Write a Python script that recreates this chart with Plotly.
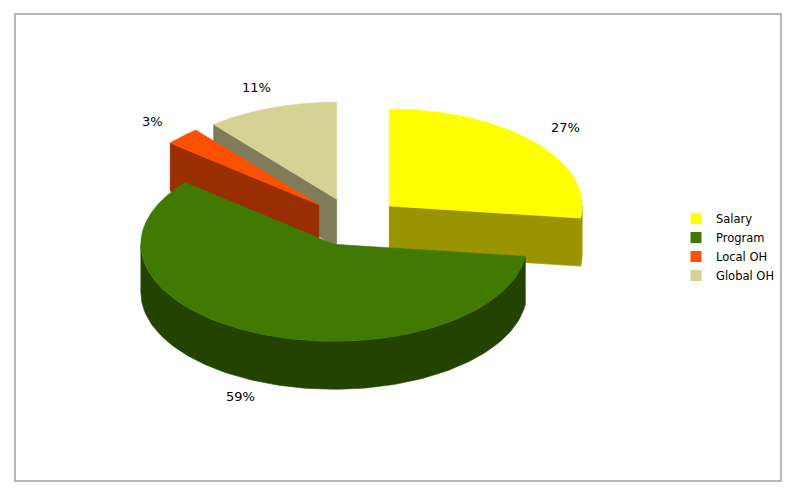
import numpy as np
import plotly.graph_objects as go

# ---- data ----
categories = ["Salary", "Program", "Local OH", "Global OH"]
values = [27, 59, 3, 11]
label_texts = ["27%", "59%", "3%", "11%"]

# ---- styles ----
top_colors = ["#FFFF00", "#417A00", "#FF5000", "#D6D296"]
side_colors = ["#999400", "#234400", "#992E00", "#807C5A"]

# geometry of the tilted pie (pixel space of the page)
CX, CY = 353, 222      # pie centre
RX, RY = 193, 97       # ellipse radii of top face
DEPTH = 48             # thickness
EXPLODE = 0.25         # explosion fraction
LABEL_R = 1.22
OFF = 8                # page offset of the figure div

total = float(sum(values))


def rim(theta, ox, oy, dz=0.0):
    t = np.radians(theta)
    return ox + RX * np.sin(t), oy - RY * np.cos(t) + dz


fig = go.Figure()

slices = []
acc = 0.0
for i, v in enumerate(values):
    a = acc / total * 360.0
    acc += v
    b = acc / total * 360.0
    m = (a + b) / 2.0
    mr = np.radians(m)
    ox = CX + EXPLODE * RX * np.sin(mr)
    oy = CY - EXPLODE * RY * np.cos(mr)
    slices.append((i, a, b, m, ox, oy))


def poly(xs, ys, color):
    fig.add_trace(go.Scatter(
        x=list(xs) + [xs[0]], y=list(ys) + [ys[0]], mode="lines",
        fill="toself", fillcolor=color,
        line=dict(color=color, width=0.6),
        hoverinfo="skip", showlegend=False))


# back to front
for i, a, b, m, ox, oy in sorted(slices, key=lambda s: s[5]):
    sc = side_colors[i]
    tc = top_colors[i]
    # radial cut faces
    for theta, normal in ((a, a - 90.0), (b, b + 90.0)):
        if np.cos(np.radians(normal)) < -1e-6:
            rx_, ry_ = rim(theta, ox, oy)
            poly([ox, rx_, rx_, ox], [oy, ry_, ry_ + DEPTH, oy + DEPTH], sc)
    # outer curved side (front half only)
    lo, hi = max(a, 90.0), min(b, 270.0)
    if hi > lo:
        th = np.linspace(lo, hi, 120)
        xt, yt = rim(th, ox, oy)
        xb, yb = rim(th[::-1], ox, oy, DEPTH)
        poly(np.concatenate([xt, xb]), np.concatenate([yt, yb]), sc)
    # top face
    th = np.linspace(a, b, max(8, int((b - a) * 2)))
    xt, yt = rim(th, ox, oy)
    poly(np.concatenate([[ox], xt]), np.concatenate([[oy], yt]), tc)

# labels
for i, a, b, m, ox, oy in slices:
    mr = np.radians(m)
    lx = ox + LABEL_R * RX * np.sin(mr)
    ly = oy - LABEL_R * RY * np.cos(mr) + DEPTH * max(0.0, -np.cos(mr))
    fig.add_annotation(x=lx, y=ly, text=label_texts[i], showarrow=False,
                       font=dict(family="DejaVu Sans, Verdana", size=13, color="#000000"))

# legend entries
for i, c in enumerate(categories):
    fig.add_trace(go.Scatter(
        x=[None], y=[None], mode="markers", name=c,
        marker=dict(symbol="square", size=11, color=top_colors[i]),
        showlegend=True))

fig.add_shape(type="rect", x0=15, y0=14, x1=781, y1=481,
              line=dict(color="#A0A0A0", width=1.5), fillcolor="rgba(0,0,0,0)")

fig.update_layout(
    width=800, height=501,
    margin=dict(l=0, r=0, t=0, b=0),
    paper_bgcolor="white", plot_bgcolor="white",
    xaxis=dict(range=[OFF, 800 + OFF], visible=False, fixedrange=True),
    yaxis=dict(range=[501 + OFF, OFF], visible=False, fixedrange=True),
    legend=dict(x=0.835, y=0.523, xanchor="left", yanchor="middle",
                font=dict(family="DejaVu Sans, Verdana", size=11.5, color="#000000"),
                bgcolor="rgba(0,0,0,0)", itemwidth=30, tracegroupgap=0),
    font=dict(family="DejaVu Sans, Verdana"),
)

fig.write_html("out.html")
